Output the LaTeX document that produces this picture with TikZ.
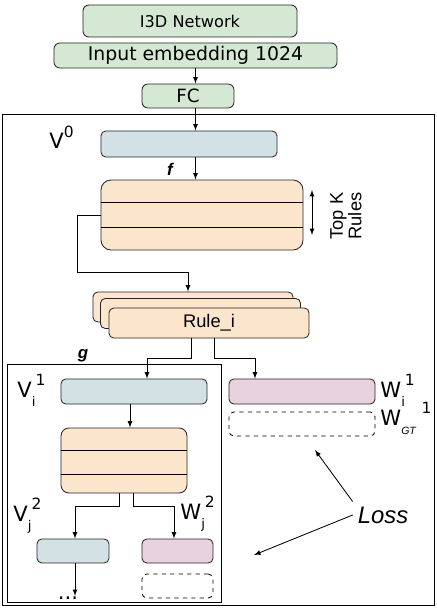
\documentclass[tikz,border=0pt]{standalone}
\usepackage{fontspec}
\setmainfont{DejaVu Sans}
\newfontfamily\arialfont{Liberation Sans}
\usetikzlibrary{positioning}

\definecolor{netgreen}{HTML}{D5E8D4}
\definecolor{vecblue}{HTML}{D3E1E5}
\definecolor{rulepeach}{HTML}{FCE5CD}
\definecolor{wpink}{HTML}{E8D2DF}

% main letter, lowered index, raised index
\newcommand{\veclab}[3]{{\fontsize{15}{15}\selectfont #1}%
  \raisebox{-7pt}{\fontsize{9.5}{10}\selectfont #2}%
  \raisebox{8pt}{\fontsize{11}{11}\selectfont #3}}

\begin{document}
\begin{tikzpicture}[
  x=0.025cm, y=-0.025cm,
  >=latex,
  line width=0.6pt,
  netbox/.style={rectangle, rounded corners=0.15cm, draw=black!85, fill=netgreen, inner sep=0pt},
  vecbox/.style={rectangle, rounded corners=0.12cm, draw=black!85, fill=vecblue, minimum height=0.625cm},
  wbox/.style={rectangle, rounded corners=0.12cm, draw=black!85, fill=wpink, minimum height=0.625cm},
  gtbox/.style={rectangle, rounded corners=0.12cm, draw=black, dashed, minimum height=0.6cm},
  rulebox/.style={rectangle, draw=black!85, fill=rulepeach},
  stackbox/.style={rectangle, rounded corners=0.12cm, draw=black!85, fill=rulepeach, minimum width=5cm, minimum height=0.75cm},
  lab/.style={inner sep=0pt, anchor=base west}
]
\useasboundingbox (0,0) rectangle (436,609);

% Input
\node[netbox, minimum width=5.35cm, minimum height=0.8cm, font=\fontsize{11.5}{12}\selectfont] (i3d) at (190,21) {I3D Network};
\node[netbox, minimum width=7.075cm, minimum height=0.625cm, font=\fontsize{13.4}{14}\selectfont] (inemb) at (195.5,55.5) {Input embedding 1024};
\node[netbox, minimum width=2.3cm, minimum height=0.6cm, font=\fontsize{13}{14}\selectfont] (fc) at (188,96) {FC};

% Outer frame
\draw (2,114) rectangle (434,605);

% First level
\node[vecbox, minimum width=4.4cm, minimum height=0.65cm] (v0) at (189,144) {};
\node[lab] (v0lab) at (49,149) {\veclab{V}{}{0}};
\node[font=\arialfont\bfseries\itshape\fontsize{12}{12}\selectfont] (flab) at (170,169) {f};
\node[rulebox, rounded corners=0.25cm, minimum width=5.05cm, minimum height=1.75cm] (rules) at (202,215) {};
\draw (rules.west |- 0,202) -- (rules.east |- 0,202);
\draw (rules.west |- 0,227) -- (rules.east |- 0,227);

\draw[->] (inemb.south) -- (inemb.south |- fc.north);
\draw[->] (inemb.south |- fc.south) -- (inemb.south |- v0.north);
\draw[->] (inemb.south |- v0.south) -- (inemb.south |- rules.north);

% Top K
\coordinate (ktop) at (312,190);
\coordinate (kbot) at (312,235);
\draw[<->] (ktop) -- (kbot);
\node[rotate=90, align=center, font=\arialfont\fontsize{13}{10.7}\selectfont] (topk) at (346,216) {Top K\\Rules};

% Rule stack
\node[stackbox] (back) at (193,307) {};
\node[stackbox] (mid) at (200.5,313.5) {};
\node[stackbox, font=\arialfont\fontsize{13}{14}\selectfont] (rulei) at (209,323) {Rule\_i};
\draw[->] (rules.west) -| (77,272) -| ([xshift=-0.125cm]back.north);

% Second level
\node[font=\arialfont\bfseries\itshape\fontsize{12}{12}\selectfont, anchor=base] (glab) at (83,358) {g};
\draw (7,364) rectangle (221,602);

\node[vecbox, minimum width=3.65cm] (vi) at (134,391.5) {};
\node[lab] (vilab) at (17,397) {\veclab{V}{i}{1}};
\node[wbox, minimum width=3.65cm] (wi) at (302,391.5) {};
\node[lab] (wilab) at (380,397) {\veclab{W}{i}{1}};
\node[gtbox, minimum width=3.65cm] (wgt) at (302,424) {};
\node[lab] (wgtlab) at (380,425) {\veclab{W}{\arialfont\itshape\fontsize{7.5}{8}\selectfont GT\hspace{4pt}}{1}};

\draw[->] ([xshift=-0.45cm]rulei.south) -- ++(0,20) -| ([xshift=0.325cm]vi.north);
\draw[->] ([xshift=0.125cm]rulei.south) -- ++(0,20) -| ([xshift=-1.175cm]wi.north);

\node[rulebox, rounded corners=0.2cm, minimum width=3.15cm, minimum height=1.625cm] (rules2) at (124,460.5) {};
\draw (rules2.west |- 0,450) -- (rules2.east |- 0,450);
\draw (rules2.west |- 0,474) -- (rules2.east |- 0,474);
\draw[->] ([xshift=-0.1cm]vi.south) -- ([xshift=-0.1cm]vi.south |- rules2.north);

% Third level
\node[vecbox, minimum width=1.8cm, minimum height=0.6cm] (vj) at (73,551) {};
\node[lab] (vjlab) at (13,521) {\veclab{V}{j}{2}};
\node[wbox, minimum width=1.775cm, minimum height=0.6cm] (wj) at (177.5,551) {};
\node[lab] (wjlab) at (180,519) {\veclab{W}{j}{2}};
\node[gtbox, minimum width=1.775cm] (wjgt) at (177.5,586) {};
\node[inner sep=0pt, anchor=base, font=\fontsize{15}{15}\selectfont] (dots) at (68,599) {...};

\draw[->] ([xshift=-0.125cm]rules2.south) -- ++(0,13) -| ([xshift=0.05cm]vj.north);
\draw[->] ([xshift=0.225cm]rules2.south) -- ++(0,13) -| ([xshift=-0.0875cm]wj.north);
\draw[->] ([xshift=0.05cm]vj.south) -- ([xshift=0.05cm]vj.south |- dots.north);

% Loss
\node[font=\arialfont\itshape\fontsize{17}{18}\selectfont] (loss) at (383,515) {Loss};
\coordinate (lossa) at (315,450);
\coordinate (lossb) at (254,555);
\draw[->] (loss.north west) -- (lossa);
\draw[->] (loss.west) -- (lossb);

\end{tikzpicture}
\end{document}
